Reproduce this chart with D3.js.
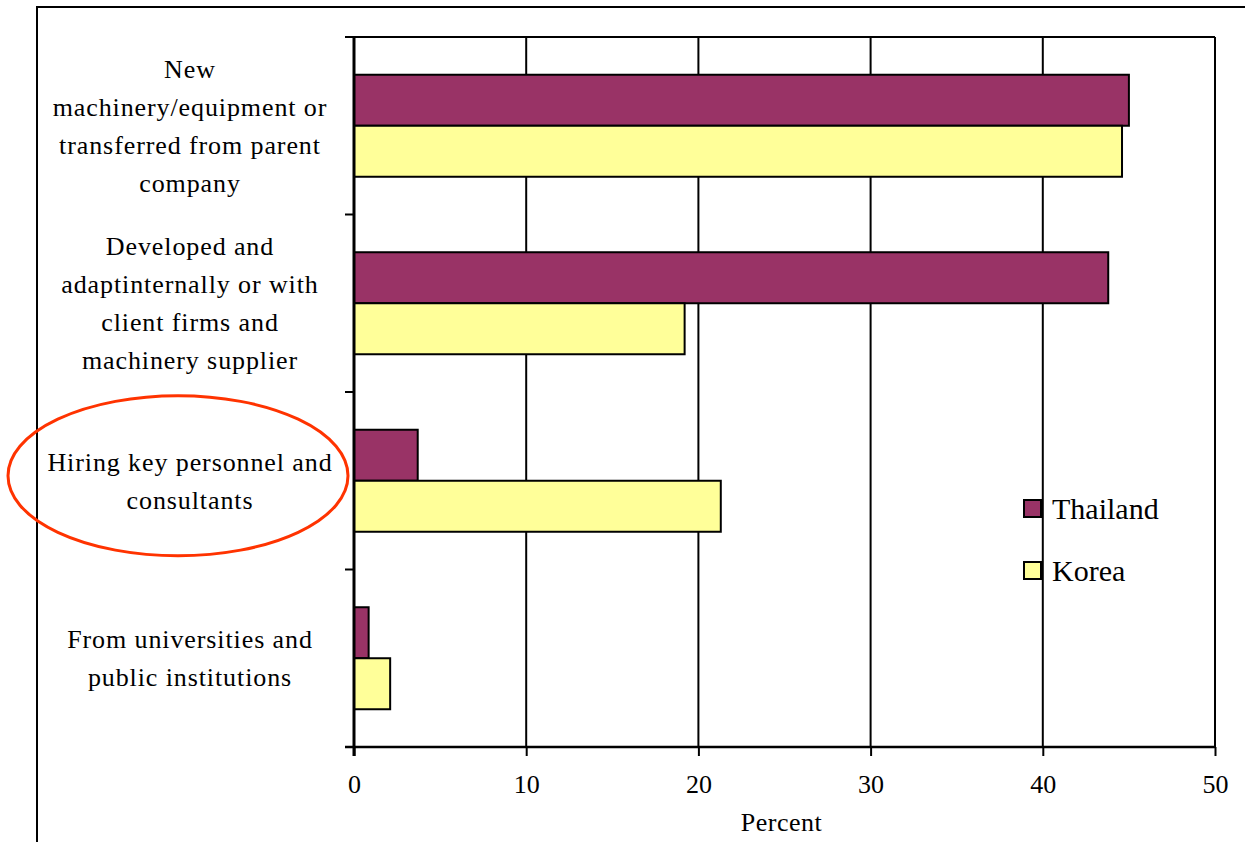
<!DOCTYPE html>
<html>
<head>
<meta charset="utf-8">
<script src="https://cdn.jsdelivr.net/npm/d3@7"></script>
<style>
  body { margin: 0; background: #fff; }
  svg text { font-family: "Liberation Serif", "Times New Roman", serif; fill: #000; }
</style>
</head>
<body>
<svg id="chart" width="1245" height="842"></svg>
<script>
// chart data
const categories = [
    ["New", "machinery/equipment or", "transferred from parent", "company"],
    ["Developed and", "adaptinternally or with", "client firms and", "machinery supplier"],
    ["Hiring key personnel and", "consultants"],
    ["From universities and", "public institutions"]
];
const seriesNames = ["Thailand", "Korea"];
const thailand = [45, 43.8, 3.7, 0.85];
const korea = [44.6, 19.2, 21.3, 2.1];
const xTicks = [0, 10, 20, 30, 40, 50];
const highlighted = 2;

const colors = { Thailand: "#993366", Korea: "#FFFF99" };

const svg = d3.select("#chart");
const plotLeft = 354, plotRight = 1215, plotTop = 37, plotBottom = 747;

// outer frame, runs off the page on the right and bottom
svg.append("rect")
    .attr("x", 37).attr("y", 7)
    .attr("width", 1400).attr("height", 1000)
    .attr("fill", "none").attr("stroke", "#000").attr("stroke-width", 2);

const x = d3.scaleLinear().domain([0, 50]).range([plotLeft, plotRight]);
const y = d3.scaleBand().domain(d3.range(categories.length)).range([plotTop, plotBottom]);
const ySeries = d3.scaleBand().domain(seriesNames)
    .range([0, y.bandwidth()]).paddingInner(0).paddingOuter(0.74);

// vertical grid lines and frame
svg.append("g").selectAll("line")
    .data(xTicks.slice(1))
    .join("line")
    .attr("x1", d => x(d)).attr("x2", d => x(d))
    .attr("y1", plotTop).attr("y2", plotBottom)
    .attr("stroke", "#000").attr("stroke-width", 2);
svg.append("line")
    .attr("x1", plotLeft - 9).attr("x2", plotRight)
    .attr("y1", plotTop).attr("y2", plotTop)
    .attr("stroke", "#000").attr("stroke-width", 2);

// bars
const rows = categories.map((c, i) => ({ i, Thailand: thailand[i], Korea: korea[i] }));
const groups = svg.append("g").selectAll("g")
    .data(rows)
    .join("g")
    .attr("transform", d => `translate(0,${y(d.i)})`);
groups.selectAll("rect")
    .data(d => seriesNames.map(s => ({ s, v: d[s] })))
    .join("rect")
    .attr("x", x(0))
    .attr("y", d => ySeries(d.s))
    .attr("width", d => x(d.v) - x(0))
    .attr("height", ySeries.bandwidth())
    .attr("fill", d => colors[d.s])
    .attr("stroke", "#000")
    .attr("stroke-width", 2);

// x axis
const xAxis = svg.append("g")
    .attr("transform", `translate(0,${plotBottom})`)
    .call(d3.axisBottom(x).tickValues(xTicks).tickSize(9).tickSizeOuter(0));
xAxis.select(".domain").attr("stroke", "#000").attr("stroke-width", 2.5)
    .attr("d", `M${plotLeft - 9},0H${plotRight}`);
xAxis.selectAll(".tick line").attr("stroke", "#000").attr("stroke-width", 2);
xAxis.selectAll(".tick text")
    .attr("y", 46).attr("dy", 0)
    .style("font-family", "'Liberation Serif', 'Times New Roman', serif")
    .style("font-size", "26px");

svg.append("text")
    .attr("x", (plotLeft + plotRight) / 2 - 3).attr("y", 831)
    .attr("text-anchor", "middle")
    .style("font-size", "26px")
    .style("letter-spacing", "0.5px")
    .text("Percent");

// category axis
svg.append("line")
    .attr("x1", plotLeft).attr("x2", plotLeft)
    .attr("y1", plotTop).attr("y2", plotBottom + 9)
    .attr("stroke", "#000").attr("stroke-width", 3);
svg.append("g").selectAll("line")
    .data(d3.range(categories.length + 1))
    .join("line")
    .attr("x1", plotLeft - 9).attr("x2", plotLeft)
    .attr("y1", d => plotTop + d * y.step()).attr("y2", d => plotTop + d * y.step())
    .attr("stroke", "#000").attr("stroke-width", 2);

const lineH = 38;
svg.append("g").selectAll("text")
    .data(categories)
    .join("text")
    .attr("text-anchor", "middle")
    .style("font-size", "26px")
    .style("letter-spacing", "0.9px")
    .each(function(lines, i) {
        const cy = y(i) + y.bandwidth() / 2;
        const first = cy - (lines.length - 1) * lineH / 2 + 9;
        d3.select(this).selectAll("tspan")
            .data(lines)
            .join("tspan")
            .attr("x", 190)
            .attr("y", (d, k) => first + k * lineH)
            .text(d => d);
    });

// highlight ellipse
svg.append("ellipse")
    .attr("cx", 178).attr("cy", y(highlighted) + y.bandwidth() / 2 - 5)
    .attr("rx", 170).attr("ry", 80)
    .attr("fill", "none").attr("stroke", "#FF3300").attr("stroke-width", 3);

// legend
const legend = svg.append("g").selectAll("g")
    .data(seriesNames)
    .join("g")
    .attr("transform", (d, i) => `translate(1024,${500 + i * 62})`);
legend.append("rect")
    .attr("width", 17).attr("height", 17)
    .attr("fill", d => colors[d])
    .attr("stroke", "#000").attr("stroke-width", 2);
legend.append("text")
    .attr("x", 28).attr("y", 19)
    .style("font-size", "30px")
    .text(d => d);
</script>
</body>
</html>
